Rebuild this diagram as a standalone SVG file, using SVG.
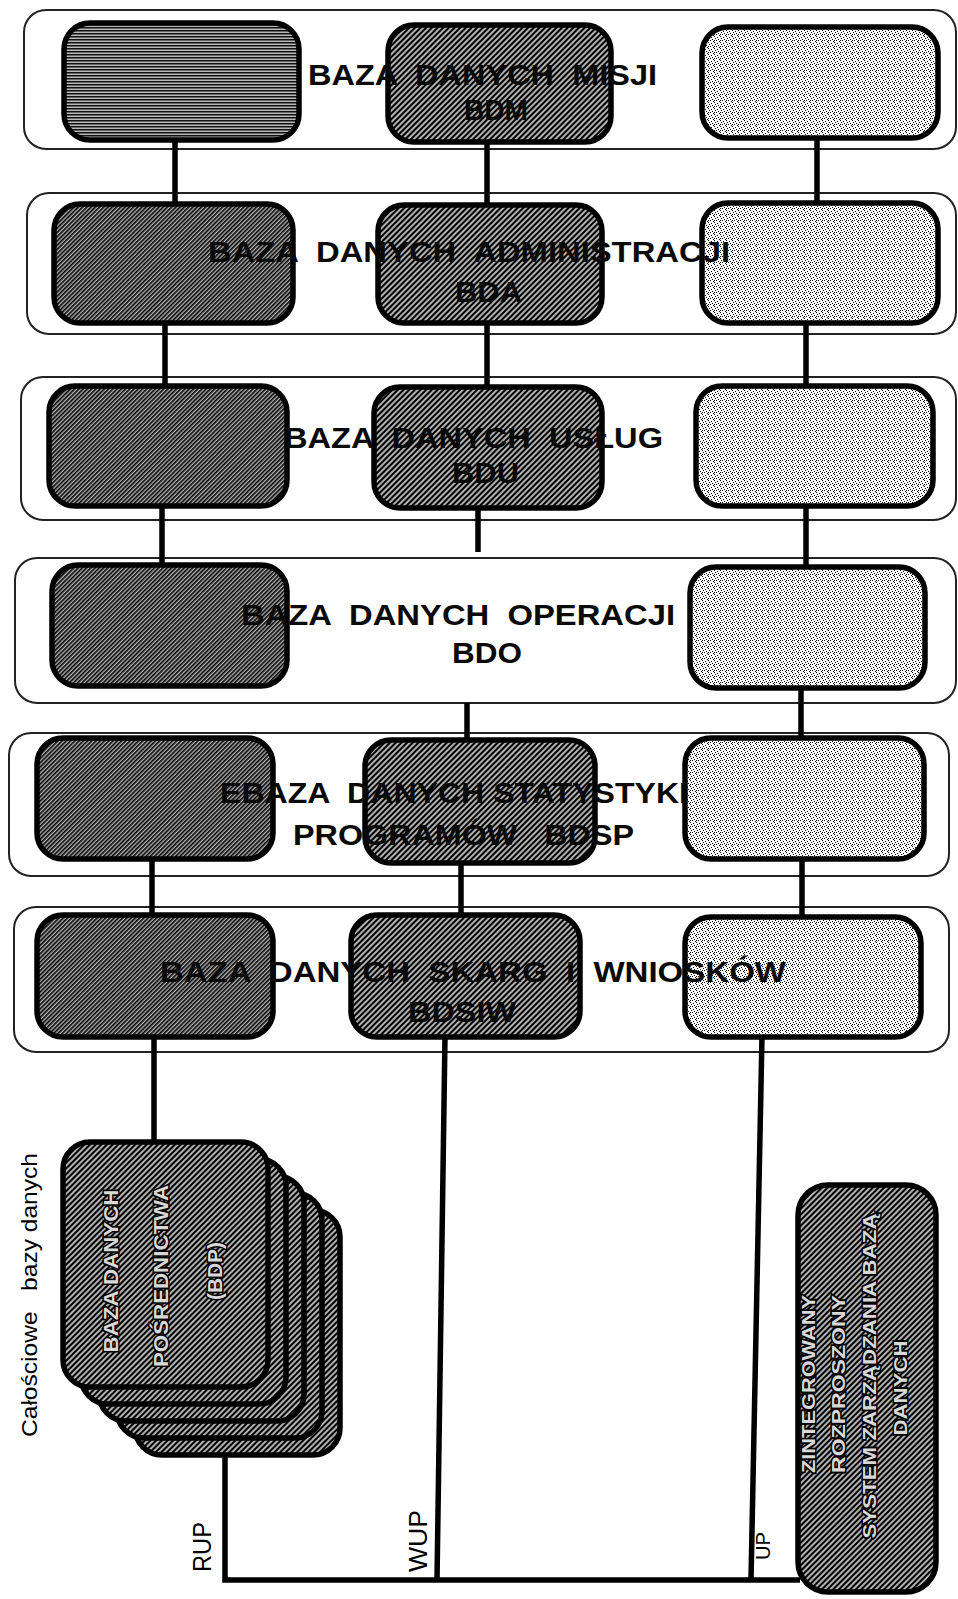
<svg xmlns="http://www.w3.org/2000/svg" width="958" height="1599" viewBox="0 0 958 1599" xml:space="preserve">
<style>
.band{fill:#fff;stroke:#222;stroke-width:2}
.node{stroke:#000;stroke-width:5.5}
.dark{fill:url(#dense)}
.hlines{fill:url(#hlines)}
.mid{fill:url(#hatch)}
.light{fill:url(#dots)}
.conn line,.conn polyline{stroke:#000;stroke-width:5.5;fill:none;stroke-linecap:butt}
.lbl{font-family:"Liberation Sans",Arial,sans-serif;font-weight:bold;font-size:29px;fill:#0a0a0a;white-space:pre}
.in{font-family:"Liberation Sans",Arial,sans-serif;font-weight:bold;fill:#d8d8d8;stroke:#000;stroke-width:3;paint-order:stroke;text-anchor:middle}
.tag{font-family:"Liberation Sans",Arial,sans-serif;fill:#000;text-anchor:middle;white-space:pre}
</style>
<defs>
<pattern id="hatch" width="4" height="4" patternUnits="userSpaceOnUse" patternTransform="rotate(45)">
<rect width="4" height="4" fill="#b0b0b0"/>
<rect width="2" height="4" fill="#000"/>
</pattern>
<pattern id="dense" width="3" height="3" patternUnits="userSpaceOnUse" patternTransform="rotate(45)">
<rect width="3" height="3" fill="#b4b4b4"/>
<rect width="1.6" height="3" fill="#000"/>
</pattern>
<pattern id="hlines" width="3" height="3" patternUnits="userSpaceOnUse">
<rect width="3" height="3" fill="#b8b8b8"/>
<rect width="3" height="1.5" fill="#111"/>
</pattern>
<pattern id="dots" width="6" height="6" patternUnits="userSpaceOnUse">
<rect width="6" height="6" fill="#fff"/>
<rect x="0" y="0" width="1" height="1" fill="#000"/>
<rect x="3" y="1" width="1" height="1" fill="#000"/>
<rect x="1" y="2" width="1" height="1" fill="#000"/>
<rect x="4" y="3" width="1" height="1" fill="#000"/>
<rect x="2" y="4" width="1" height="1" fill="#000"/>
<rect x="5" y="5" width="1" height="1" fill="#000"/>
<rect x="0" y="4" width="1" height="1" fill="#000"/>
</pattern>
</defs>
<rect width="958" height="1599" fill="#fff"/>

<g id="bands">
<rect id="band-bdm" class="band" x="24" y="10" width="932" height="139" rx="22"/>
<rect id="band-bda" class="band" x="27" y="193" width="929" height="141" rx="22"/>
<rect id="band-bdu" class="band" x="21" y="377" width="935" height="143" rx="22"/>
<rect id="band-bdo" class="band" x="15" y="558" width="941" height="145" rx="22"/>
<rect id="band-bdsp" class="band" x="9" y="733" width="940" height="143" rx="22"/>
<rect id="band-bdsiw" class="band" x="14" y="907" width="935" height="145" rx="22"/>
</g>

<g id="connectors" class="conn">
<line x1="175" y1="140" x2="175" y2="206"/>
<line x1="165" y1="322" x2="165" y2="388"/>
<line x1="162" y1="505" x2="162" y2="567"/>
<line x1="152" y1="858" x2="152" y2="917"/>
<line x1="154" y1="1036" x2="154" y2="1144"/>
<line x1="487" y1="141" x2="487" y2="207"/>
<line x1="487" y1="322" x2="487" y2="389"/>
<line x1="478" y1="507" x2="478" y2="552"/>
<line x1="467" y1="703" x2="467" y2="742"/>
<line x1="461" y1="862" x2="461" y2="917"/>
<line x1="445" y1="1036" x2="437" y2="1580"/>
<line x1="817" y1="137" x2="817" y2="205"/>
<line x1="806" y1="322" x2="806" y2="388"/>
<line x1="806" y1="505" x2="806" y2="569"/>
<line x1="801" y1="687" x2="801" y2="740"/>
<line x1="802" y1="858" x2="802" y2="919"/>
<line x1="762" y1="1036" x2="751" y2="1580"/>
<polyline points="225,1455 225,1580 800,1580"/>
</g>

<g id="node-bdm-1"><rect class="node hlines" x="64" y="23" width="235" height="117" rx="26"/></g>
<g id="node-bdm-2"><rect class="node mid" x="388" y="25" width="223" height="117" rx="26"/></g>
<g id="node-bdm-3"><rect class="node light" x="702" y="27" width="236" height="111" rx="26"/></g>

<g id="node-bda-1"><rect class="node dark" x="54" y="204" width="239" height="119" rx="26"/></g>
<g id="node-bda-2"><rect class="node mid" x="378" y="205" width="224" height="118" rx="26"/></g>
<g id="node-bda-3"><rect class="node light" x="702" y="203" width="236" height="120" rx="26"/></g>

<g id="node-bdu-1"><rect class="node dark" x="49" y="386" width="238" height="120" rx="26"/></g>
<g id="node-bdu-2"><rect class="node mid" x="374" y="387" width="228" height="121" rx="26"/></g>
<g id="node-bdu-3"><rect class="node light" x="696" y="386" width="237" height="120" rx="26"/></g>

<g id="node-bdo-1"><rect class="node dark" x="52" y="565" width="235" height="121" rx="26"/></g>
<g id="node-bdo-3"><rect class="node light" x="690" y="567" width="235" height="121" rx="26"/></g>

<g id="node-bdsp-1"><rect class="node dark" x="37" y="738" width="236" height="121" rx="26"/></g>
<g id="node-bdsp-2"><rect class="node mid" x="365" y="740" width="230" height="123" rx="26"/></g>
<g id="node-bdsp-3"><rect class="node light" x="685" y="738" width="239" height="121" rx="26"/></g>

<g id="node-bdsiw-1"><rect class="node dark" x="37" y="915" width="236" height="122" rx="26"/></g>
<g id="node-bdsiw-2"><rect class="node mid" x="351" y="915" width="229" height="122" rx="26"/></g>
<g id="node-bdsiw-3"><rect class="node light" x="685" y="917" width="236" height="120" rx="26"/></g>

<g id="labels">
<text id="lbl-bdm-1" class="lbl" x="308" y="85" textLength="349" lengthAdjust="spacingAndGlyphs">BAZA  DANYCH  MISJI</text>
<text id="lbl-bdm-2" class="lbl" x="464" y="120" textLength="64" lengthAdjust="spacingAndGlyphs">BDM</text>
<text id="lbl-bda-1" class="lbl" x="208" y="262" textLength="522" lengthAdjust="spacingAndGlyphs">BAZA  DANYCH  ADMINISTRACJI</text>
<text id="lbl-bda-2" class="lbl" x="455" y="302" textLength="67" lengthAdjust="spacingAndGlyphs">BDA</text>
<text id="lbl-bdu-1" class="lbl" x="284" y="448" textLength="379" lengthAdjust="spacingAndGlyphs">BAZA  DANYCH  USŁUG</text>
<text id="lbl-bdu-2" class="lbl" x="452" y="483" textLength="67" lengthAdjust="spacingAndGlyphs">BDU</text>
<text id="lbl-bdo-1" class="lbl" x="241" y="625" textLength="434" lengthAdjust="spacingAndGlyphs">BAZA  DANYCH  OPERACJI</text>
<text id="lbl-bdo-2" class="lbl" x="452" y="663" textLength="70" lengthAdjust="spacingAndGlyphs">BDO</text>
<text id="lbl-bdsp-1" class="lbl" x="220" y="803" textLength="468" lengthAdjust="spacingAndGlyphs">EBAZA  DANYCH STATYSTYKI</text>
<text id="lbl-bdsp-2" class="lbl" x="293" y="845" textLength="341" lengthAdjust="spacingAndGlyphs">PROGRAMÓW   BDSP</text>
<text id="lbl-bdsiw-1" class="lbl" x="160" y="982" textLength="626" lengthAdjust="spacingAndGlyphs">BAZA  DANYCH  SKARG  I  WNIOSKÓW</text>
<text id="lbl-bdsiw-2" class="lbl" x="408" y="1022" textLength="108" lengthAdjust="spacingAndGlyphs">BDSIW</text>
</g>

<g id="node-bdp">
<rect class="node mid" x="135" y="1210" width="205" height="245" rx="27"/>
<rect class="node mid" x="117" y="1193" width="205" height="245" rx="27"/>
<rect class="node mid" x="99" y="1176" width="205" height="245" rx="27"/>
<rect class="node mid" x="81" y="1159" width="205" height="245" rx="27"/>
<rect class="node mid" x="63" y="1142" width="205" height="245" rx="27"/>
<text class="in" font-size="21" transform="translate(118,1271) rotate(-90)" textLength="163" lengthAdjust="spacingAndGlyphs">BAZA DANYCH</text>
<text class="in" font-size="21" transform="translate(168,1276) rotate(-90)" textLength="182" lengthAdjust="spacingAndGlyphs">POŚREDNICTWA</text>
<text class="in" font-size="21" transform="translate(222,1271) rotate(-90)" textLength="58" lengthAdjust="spacingAndGlyphs">(BDP)</text>
</g>

<g id="node-zrszbd">
<rect class="node mid" x="798" y="1185" width="138" height="407" rx="30"/>
<text class="in" font-size="18" transform="translate(815,1384) rotate(-90)" textLength="178" lengthAdjust="spacingAndGlyphs">ZINTEGROWANY</text>
<text class="in" font-size="18" transform="translate(845,1384) rotate(-90)" textLength="178" lengthAdjust="spacingAndGlyphs">ROZPROSZONY</text>
<text class="in" font-size="18" transform="translate(876,1376) rotate(-90)" textLength="325" lengthAdjust="spacingAndGlyphs">SYSTEM ZARZĄDZANIA BAZĄ</text>
<text class="in" font-size="18" transform="translate(907,1388) rotate(-90)" textLength="95" lengthAdjust="spacingAndGlyphs">DANYCH</text>
</g>

<g id="side-labels">
<text class="tag" font-size="22" transform="translate(37,1295) rotate(-90)" textLength="284" lengthAdjust="spacingAndGlyphs">Całościowe   bazy danych</text>
<text class="tag" font-size="25" transform="translate(211,1547) rotate(-90)" textLength="50" lengthAdjust="spacingAndGlyphs">RUP</text>
<text class="tag" font-size="25" transform="translate(427,1541) rotate(-90)" textLength="62" lengthAdjust="spacingAndGlyphs">WUP</text>
<text class="tag" font-size="21" transform="translate(770,1546) rotate(-90)" textLength="28" lengthAdjust="spacingAndGlyphs">UP</text>
</g>
</svg>
